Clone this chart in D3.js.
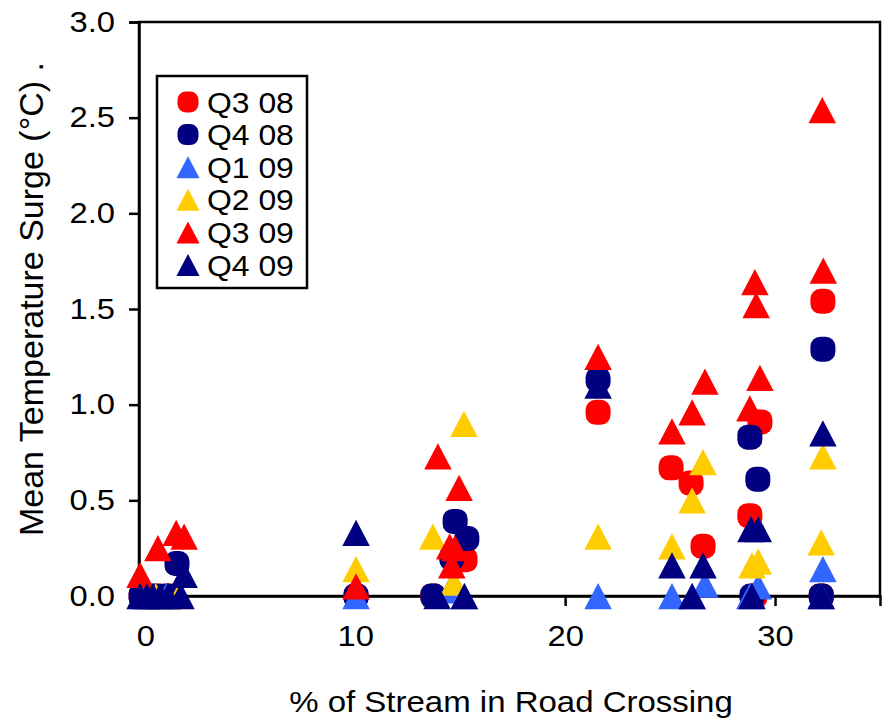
<!DOCTYPE html>
<html><head><meta charset="utf-8">
<script src="https://cdn.jsdelivr.net/npm/d3@7"></script>
<style>body{margin:0;background:#fff}svg{display:block}text{font-family:"Liberation Sans",Arial,sans-serif;fill:#000}</style>
</head><body><svg id="c" width="887" height="721"></svg>
<script>
const seriesNames = ["Q3 08","Q4 08","Q1 09","Q2 09","Q3 09","Q4 09"];
const seriesShapes = ["circle","circle","triangle","triangle","triangle","triangle"];
const seriesColors = ["#ff0000","#000080","#3366ff","#ffcc00","#ff0000","#000080"];
const q3_08 = [[-0.2,0],[0.6,0],[1.2,0],[10.04,0],[13.7,0],[15.23,0.19],[21.57,0.96],[25.05,0.67],[26.0,0.59],[26.57,0.26],[28.8,0.42],[29.28,0.91],[29.04,0],[32.28,1.54],[32.2,0]];
const q4_08 = [[-0.2,0],[0.4,0],[1.0,0],[1.51,0.17],[10.04,0],[13.7,0],[14.76,0.39],[15.32,0.30],[14.6,0.2],[21.57,1.13],[28.8,0.83],[29.18,0.61],[28.9,0],[32.28,1.29],[32.2,0]];
const q1_09 = [[0,0],[1.0,0],[10.04,0],[14.5,0.03],[15.2,0],[21.57,0],[25.09,0],[26.05,0],[26.66,0.06],[28.8,0],[29.2,0.05],[32.28,0.14],[32.2,0]];
const q2_09 = [[0.5,0],[1.6,0],[10.04,0.14],[13.7,0.31],[14.7,0.07],[15.18,0.90],[21.57,0.31],[25.09,0.26],[26.05,0.50],[26.57,0.70],[28.9,0.16],[29.2,0.18],[32.28,0.73],[32.2,0.28]];
const q3_09 = [[-0.25,0.11],[0.6,0.25],[1.47,0.33],[1.85,0.31],[10.04,0.05],[13.94,0.73],[14.95,0.565],[14.5,0.26],[14.75,0.25],[14.6,0.16],[21.57,1.25],[25.09,0.86],[26.05,0.96],[26.66,1.12],[29.04,1.64],[29.1,1.52],[29.28,1.14],[28.8,0.98],[32.25,2.54],[32.3,1.70]];
const q4_09 = [[-0.25,0],[0.08,0],[0.37,0],[0.7,0],[1.08,0],[1.7,0],[1.85,0.11],[10.04,0.33],[13.9,0],[15.2,0],[21.57,1.10],[25.09,0.16],[26.05,0],[26.57,0.16],[28.85,0.35],[29.2,0.35],[28.9,0],[32.28,0.85],[32.2,0]];
const xTicks = [0,10,20,30];
const yTicks = [0,0.5,1.0,1.5,2.0,2.5,3.0];
const xTitle = "% of Stream in Road Crossing";
const yTitle = "Mean Temperature Surge (°C) .";

const allSeries = [q3_08,q4_08,q1_09,q2_09,q3_09,q4_09];
const svg = d3.select("#c");
const L=139,R=880,T=22,B=596;
const x = d3.scaleLinear().domain([-0.3,35]).range([L,R]);
const y = d3.scaleLinear().domain([0,3]).range([B,T]);
const SX = 1.13;

svg.append("rect").attr("x",L).attr("y",T).attr("width",R-L).attr("height",B-T)
  .attr("fill","none").attr("stroke","#000").attr("stroke-width",2.5);

const gx = svg.append("g").attr("transform",`translate(0,${B})`)
  .call(d3.axisBottom(x).tickValues(xTicks).tickSize(10).tickPadding(19).tickFormat(d3.format("d")));
const gy = svg.append("g").attr("transform",`translate(${L},0)`)
  .call(d3.axisLeft(y).tickValues(yTicks).tickSize(10).tickPadding(14).tickFormat(d3.format(".1f")));
[gx,gy].forEach(g=>{
  g.select(".domain").attr("stroke","#000").attr("stroke-width",2.5);
  g.selectAll(".tick line").attr("stroke","#000").attr("stroke-width",2.5);
  g.selectAll(".tick text").attr("font-size",29).attr("fill","#000")
   .style("font-family",'"Liberation Sans",Arial,sans-serif');
});
gx.selectAll(".tick text").attr("transform",`scale(${SX},1)`);
gy.selectAll(".tick text").attr("x",-24/SX).attr("transform",`scale(${SX},1)`);

function drawMarker(g, shape, color, cx, cy, s){
  if(shape==="circle"){
    g.append("rect").attr("x",cx-s/2).attr("y",cy-s/2).attr("width",s).attr("height",s)
      .attr("rx",s*0.4).attr("ry",s*0.4).attr("fill",color);
  } else {
    const w=s*1.1, h=s*1.05;
    g.append("path").attr("d",`M${cx},${cy-h/2}L${cx+w/2},${cy+h/2}L${cx-w/2},${cy+h/2}Z`).attr("fill",color);
  }
}
const pts = svg.append("g");
allSeries.forEach((data,i)=>{
  const g = pts.append("g");
  data.forEach(d=>drawMarker(g, seriesShapes[i], seriesColors[i], x(d[0]), y(d[1]), 25));
});

const lg = svg.append("g");
lg.append("rect").attr("x",157).attr("y",76).attr("width",150).attr("height",212)
  .attr("fill","#fff").attr("stroke","#000").attr("stroke-width",2.5);
seriesNames.forEach((n,i)=>{
  const cy = 102 + i*32.6;
  drawMarker(lg, seriesShapes[i], seriesColors[i], 188, cy, 21);
  lg.append("text").attr("transform",`translate(207,${cy+10.5}) scale(1.1,1)`)
    .attr("font-size",29).text(n);
});

svg.append("text").attr("x",511).attr("y",712).attr("text-anchor","middle").attr("font-size",30)
  .attr("transform",`translate(511,0) scale(1.1,1) translate(-511,0)`).text(xTitle);
svg.append("text").attr("transform","translate(43,299) rotate(-90)").attr("text-anchor","middle")
  .attr("font-size",34).text(yTitle);
</script></body></html>
